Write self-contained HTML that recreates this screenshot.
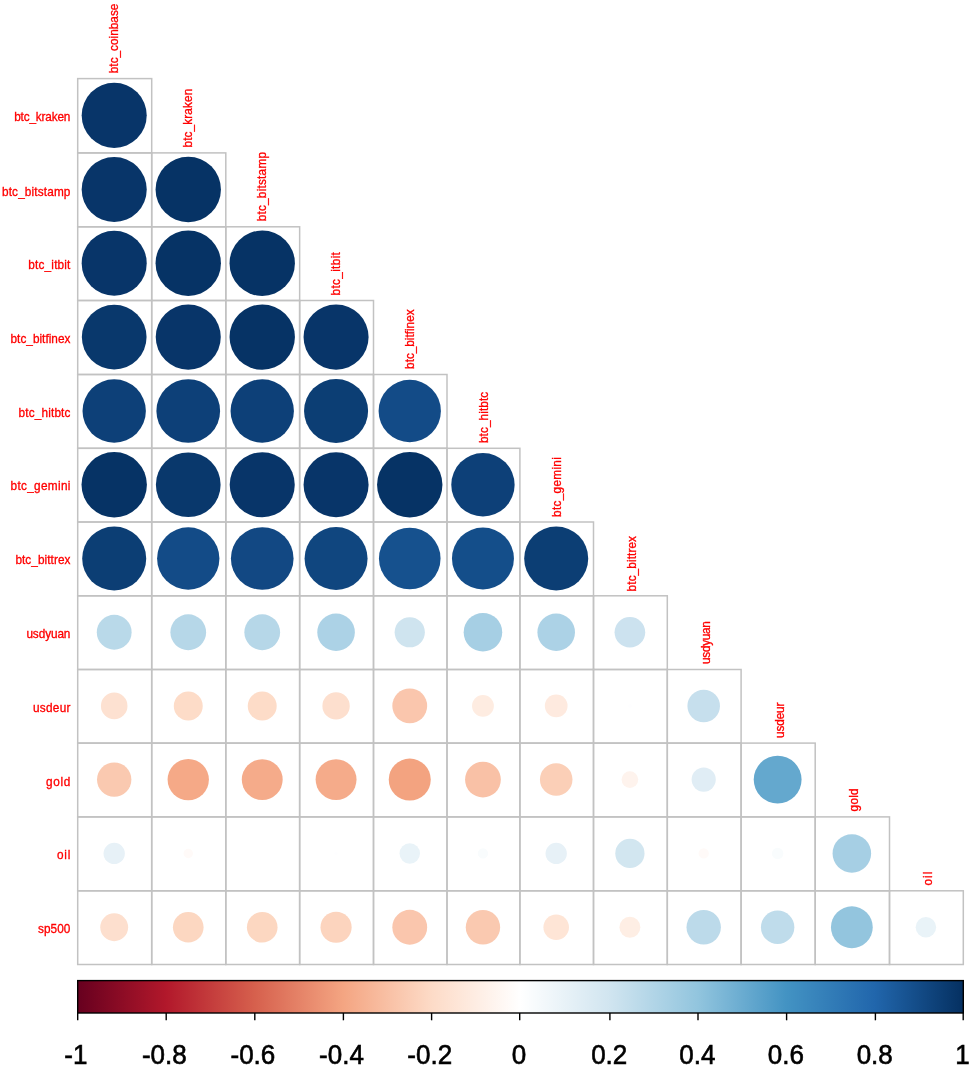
<!DOCTYPE html>
<html><head><meta charset="utf-8"><title>corrplot</title>
<style>html,body{margin:0;padding:0;background:#fff}svg{display:block;filter:blur(0.45px)}</style></head>
<body>
<svg width="969" height="1066" viewBox="0 0 969 1066" font-family="&quot;Liberation Sans&quot;, sans-serif">
<rect width="969" height="1066" fill="#fff"/>
<g fill="none" stroke="#C2C2C2" stroke-width="1.5"><rect x="77.70" y="78.60" width="74.00" height="74.30"/><rect x="77.70" y="152.90" width="74.00" height="73.90"/><rect x="151.70" y="152.90" width="74.10" height="73.90"/><rect x="77.70" y="226.80" width="74.00" height="73.70"/><rect x="151.70" y="226.80" width="74.10" height="73.70"/><rect x="225.80" y="226.80" width="73.85" height="73.70"/><rect x="77.70" y="300.50" width="74.00" height="74.00"/><rect x="151.70" y="300.50" width="74.10" height="74.00"/><rect x="225.80" y="300.50" width="73.85" height="74.00"/><rect x="299.65" y="300.50" width="73.85" height="74.00"/><rect x="77.70" y="374.50" width="74.00" height="73.80"/><rect x="151.70" y="374.50" width="74.10" height="73.80"/><rect x="225.80" y="374.50" width="73.85" height="73.80"/><rect x="299.65" y="374.50" width="73.85" height="73.80"/><rect x="373.50" y="374.50" width="73.50" height="73.80"/><rect x="77.70" y="448.30" width="74.00" height="73.70"/><rect x="151.70" y="448.30" width="74.10" height="73.70"/><rect x="225.80" y="448.30" width="73.85" height="73.70"/><rect x="299.65" y="448.30" width="73.85" height="73.70"/><rect x="373.50" y="448.30" width="73.50" height="73.70"/><rect x="447.00" y="448.30" width="72.90" height="73.70"/><rect x="77.70" y="522.00" width="74.00" height="73.80"/><rect x="151.70" y="522.00" width="74.10" height="73.80"/><rect x="225.80" y="522.00" width="73.85" height="73.80"/><rect x="299.65" y="522.00" width="73.85" height="73.80"/><rect x="373.50" y="522.00" width="73.50" height="73.80"/><rect x="447.00" y="522.00" width="72.90" height="73.80"/><rect x="519.90" y="522.00" width="73.60" height="73.80"/><rect x="77.70" y="595.80" width="74.00" height="73.70"/><rect x="151.70" y="595.80" width="74.10" height="73.70"/><rect x="225.80" y="595.80" width="73.85" height="73.70"/><rect x="299.65" y="595.80" width="73.85" height="73.70"/><rect x="373.50" y="595.80" width="73.50" height="73.70"/><rect x="447.00" y="595.80" width="72.90" height="73.70"/><rect x="519.90" y="595.80" width="73.60" height="73.70"/><rect x="593.50" y="595.80" width="73.80" height="73.70"/><rect x="77.70" y="669.50" width="74.00" height="73.60"/><rect x="151.70" y="669.50" width="74.10" height="73.60"/><rect x="225.80" y="669.50" width="73.85" height="73.60"/><rect x="299.65" y="669.50" width="73.85" height="73.60"/><rect x="373.50" y="669.50" width="73.50" height="73.60"/><rect x="447.00" y="669.50" width="72.90" height="73.60"/><rect x="519.90" y="669.50" width="73.60" height="73.60"/><rect x="593.50" y="669.50" width="73.80" height="73.60"/><rect x="667.30" y="669.50" width="73.80" height="73.60"/><rect x="77.70" y="743.10" width="74.00" height="73.80"/><rect x="151.70" y="743.10" width="74.10" height="73.80"/><rect x="225.80" y="743.10" width="73.85" height="73.80"/><rect x="299.65" y="743.10" width="73.85" height="73.80"/><rect x="373.50" y="743.10" width="73.50" height="73.80"/><rect x="447.00" y="743.10" width="72.90" height="73.80"/><rect x="519.90" y="743.10" width="73.60" height="73.80"/><rect x="593.50" y="743.10" width="73.80" height="73.80"/><rect x="667.30" y="743.10" width="73.80" height="73.80"/><rect x="741.10" y="743.10" width="74.10" height="73.80"/><rect x="77.70" y="816.90" width="74.00" height="73.90"/><rect x="151.70" y="816.90" width="74.10" height="73.90"/><rect x="225.80" y="816.90" width="73.85" height="73.90"/><rect x="299.65" y="816.90" width="73.85" height="73.90"/><rect x="373.50" y="816.90" width="73.50" height="73.90"/><rect x="447.00" y="816.90" width="72.90" height="73.90"/><rect x="519.90" y="816.90" width="73.60" height="73.90"/><rect x="593.50" y="816.90" width="73.80" height="73.90"/><rect x="667.30" y="816.90" width="73.80" height="73.90"/><rect x="741.10" y="816.90" width="74.10" height="73.90"/><rect x="815.20" y="816.90" width="74.30" height="73.90"/><rect x="77.70" y="890.80" width="74.00" height="73.70"/><rect x="151.70" y="890.80" width="74.10" height="73.70"/><rect x="225.80" y="890.80" width="73.85" height="73.70"/><rect x="299.65" y="890.80" width="73.85" height="73.70"/><rect x="373.50" y="890.80" width="73.50" height="73.70"/><rect x="447.00" y="890.80" width="72.90" height="73.70"/><rect x="519.90" y="890.80" width="73.60" height="73.70"/><rect x="593.50" y="890.80" width="73.80" height="73.70"/><rect x="667.30" y="890.80" width="73.80" height="73.70"/><rect x="741.10" y="890.80" width="74.10" height="73.70"/><rect x="815.20" y="890.80" width="74.30" height="73.70"/><rect x="889.50" y="890.80" width="73.80" height="73.70"/></g>
<circle cx="114.20" cy="115.35" r="32.53" fill="#083569"/>
<circle cx="114.20" cy="189.45" r="32.53" fill="#083569"/>
<circle cx="188.25" cy="189.45" r="32.69" fill="#063365"/>
<circle cx="114.20" cy="263.25" r="32.53" fill="#083569"/>
<circle cx="188.25" cy="263.25" r="32.69" fill="#063365"/>
<circle cx="262.23" cy="263.25" r="32.69" fill="#063365"/>
<circle cx="114.20" cy="337.10" r="32.36" fill="#09386C"/>
<circle cx="188.25" cy="337.10" r="32.53" fill="#083569"/>
<circle cx="262.23" cy="337.10" r="32.69" fill="#063365"/>
<circle cx="336.07" cy="337.10" r="32.53" fill="#083569"/>
<circle cx="114.20" cy="411.00" r="31.68" fill="#0D4078"/>
<circle cx="188.25" cy="411.00" r="31.85" fill="#0D4078"/>
<circle cx="262.23" cy="411.00" r="31.68" fill="#0D4078"/>
<circle cx="336.07" cy="411.00" r="32.02" fill="#0C3E74"/>
<circle cx="409.75" cy="411.00" r="31.16" fill="#134B87"/>
<circle cx="114.20" cy="484.75" r="32.69" fill="#063365"/>
<circle cx="188.25" cy="484.75" r="32.36" fill="#09386C"/>
<circle cx="262.23" cy="484.75" r="32.53" fill="#083569"/>
<circle cx="336.07" cy="484.75" r="32.53" fill="#083569"/>
<circle cx="409.75" cy="484.75" r="32.69" fill="#063365"/>
<circle cx="482.95" cy="484.75" r="31.68" fill="#0D4078"/>
<circle cx="114.20" cy="558.50" r="32.02" fill="#0C3E74"/>
<circle cx="188.25" cy="558.50" r="31.16" fill="#134B87"/>
<circle cx="262.23" cy="558.50" r="31.33" fill="#124883"/>
<circle cx="336.07" cy="558.50" r="31.50" fill="#10467F"/>
<circle cx="409.75" cy="558.50" r="30.80" fill="#16518E"/>
<circle cx="482.95" cy="558.50" r="30.98" fill="#144E8A"/>
<circle cx="556.20" cy="558.50" r="32.02" fill="#0C3E74"/>
<circle cx="114.20" cy="632.25" r="17.42" fill="#B9D9E9"/>
<circle cx="188.25" cy="632.25" r="17.88" fill="#B6D7E8"/>
<circle cx="262.23" cy="632.25" r="17.88" fill="#B6D7E8"/>
<circle cx="336.07" cy="632.25" r="18.79" fill="#ACD2E6"/>
<circle cx="409.75" cy="632.25" r="15.11" fill="#CFE4EF"/>
<circle cx="482.95" cy="632.25" r="19.28" fill="#A6CFE4"/>
<circle cx="556.20" cy="632.25" r="18.79" fill="#ACD2E6"/>
<circle cx="629.90" cy="632.25" r="15.33" fill="#CCE2EF"/>
<circle cx="114.20" cy="705.90" r="13.28" fill="#FDE1D1"/>
<circle cx="188.25" cy="705.90" r="14.48" fill="#FDDCC8"/>
<circle cx="262.23" cy="705.90" r="14.48" fill="#FDDCC8"/>
<circle cx="336.07" cy="705.90" r="13.69" fill="#FDDFCE"/>
<circle cx="409.75" cy="705.90" r="17.42" fill="#FAC6AD"/>
<circle cx="482.95" cy="705.90" r="10.91" fill="#FEECE1"/>
<circle cx="556.20" cy="705.90" r="11.36" fill="#FEEADF"/>
<circle cx="629.90" cy="705.90" r="1.82" fill="#FEFEFF"/>
<circle cx="703.70" cy="705.90" r="16.27" fill="#C6DFED"/>
<circle cx="114.20" cy="779.60" r="17.19" fill="#FAC9B0"/>
<circle cx="188.25" cy="779.60" r="20.66" fill="#F5A987"/>
<circle cx="262.23" cy="779.60" r="20.45" fill="#F5AB8A"/>
<circle cx="336.07" cy="779.60" r="20.45" fill="#F5AB8A"/>
<circle cx="409.75" cy="779.60" r="21.00" fill="#F3A380"/>
<circle cx="482.95" cy="779.60" r="17.88" fill="#F9C1A6"/>
<circle cx="556.20" cy="779.60" r="16.27" fill="#FBCFB7"/>
<circle cx="629.90" cy="779.60" r="8.34" fill="#FEF3ED"/>
<circle cx="703.70" cy="779.60" r="12.07" fill="#E0EDF5"/>
<circle cx="777.65" cy="779.60" r="23.93" fill="#64A8CE"/>
<circle cx="114.20" cy="853.45" r="10.66" fill="#E7F1F7"/>
<circle cx="188.25" cy="853.45" r="4.70" fill="#FFFAF8"/>
<circle cx="336.07" cy="853.45" r="1.82" fill="#FEFEFF"/>
<circle cx="409.75" cy="853.45" r="10.24" fill="#E9F3F8"/>
<circle cx="482.95" cy="853.45" r="5.14" fill="#F9FCFD"/>
<circle cx="556.20" cy="853.45" r="10.66" fill="#E7F1F7"/>
<circle cx="629.90" cy="853.45" r="14.63" fill="#D2E6F0"/>
<circle cx="703.70" cy="853.45" r="5.14" fill="#FFFAF8"/>
<circle cx="777.65" cy="853.45" r="5.75" fill="#F9FCFD"/>
<circle cx="851.85" cy="853.45" r="19.28" fill="#A6CFE4"/>
<circle cx="114.20" cy="927.25" r="13.93" fill="#FDDFCE"/>
<circle cx="188.25" cy="927.25" r="15.33" fill="#FCD7C1"/>
<circle cx="262.23" cy="927.25" r="15.33" fill="#FCD7C1"/>
<circle cx="336.07" cy="927.25" r="15.58" fill="#FCD4BE"/>
<circle cx="409.75" cy="927.25" r="17.42" fill="#FAC6AD"/>
<circle cx="482.95" cy="927.25" r="17.19" fill="#FAC9B0"/>
<circle cx="556.20" cy="927.25" r="12.78" fill="#FEE5D6"/>
<circle cx="629.90" cy="927.25" r="10.45" fill="#FEEEE4"/>
<circle cx="703.70" cy="927.25" r="17.19" fill="#BCDAEA"/>
<circle cx="777.65" cy="927.25" r="16.70" fill="#BFDCEB"/>
<circle cx="851.85" cy="927.25" r="20.90" fill="#93C5DE"/>
<circle cx="925.90" cy="927.25" r="10.24" fill="#E9F3F8"/>
<g fill="#FF0000" stroke="#FF0000" stroke-width="0.3" font-size="11.8">
<text transform="translate(70.4,121.45) scale(1,1.08)" text-anchor="end" textLength="56.2">btc_kraken</text>
<text transform="translate(70.4,195.65) scale(1,1.08)" text-anchor="end" textLength="68.4">btc_bitstamp</text>
<text transform="translate(70.4,269.35) scale(1,1.08)" text-anchor="end" textLength="42.1">btc_itbit</text>
<text transform="translate(70.4,343.30) scale(1,1.08)" text-anchor="end" textLength="59.9">btc_bitfinex</text>
<text transform="translate(70.4,417.30) scale(1,1.08)" text-anchor="end" textLength="51.8">btc_hitbtc</text>
<text transform="translate(70.4,490.05) scale(1,1.08)" text-anchor="end" textLength="59.9">btc_gemini</text>
<text transform="translate(70.4,564.00) scale(1,1.08)" text-anchor="end" textLength="55.0">btc_bittrex</text>
<text transform="translate(70.4,637.85) scale(1,1.08)" text-anchor="end" textLength="44.0">usdyuan</text>
<text transform="translate(70.4,711.50) scale(1,1.08)" text-anchor="end" textLength="37.4">usdeur</text>
<text transform="translate(70.4,785.70) scale(1,1.08)" text-anchor="end" textLength="24.5">gold</text>
<text transform="translate(70.4,859.45) scale(1,1.08)" text-anchor="end" textLength="13.5">oil</text>
<text transform="translate(70.4,933.35) scale(1,1.08)" text-anchor="end" textLength="32.5">sp500</text>
<text transform="translate(118.30,73.20) rotate(-90) scale(1,1.08)" textLength="69.6">btc_coinbase</text>
<text transform="translate(192.05,147.50) rotate(-90) scale(1,1.08)" textLength="58.8">btc_kraken</text>
<text transform="translate(266.33,221.30) rotate(-90) scale(1,1.08)" textLength="69.3">btc_bitstamp</text>
<text transform="translate(340.18,295.50) rotate(-90) scale(1,1.08)" textLength="43.4">btc_itbit</text>
<text transform="translate(413.95,368.90) rotate(-90) scale(1,1.08)" textLength="59.5">btc_bitfinex</text>
<text transform="translate(487.55,443.10) rotate(-90) scale(1,1.08)" textLength="51.3">btc_hitbtc</text>
<text transform="translate(561.10,516.90) rotate(-90) scale(1,1.08)" textLength="59.7">btc_gemini</text>
<text transform="translate(635.80,591.40) rotate(-90) scale(1,1.08)" textLength="55.4">btc_bittrex</text>
<text transform="translate(710.00,663.90) rotate(-90) scale(1,1.08)" textLength="42.7">usdyuan</text>
<text transform="translate(783.95,737.90) rotate(-90) scale(1,1.08)" textLength="35.3">usdeur</text>
<text transform="translate(858.15,811.40) rotate(-90) scale(1,1.08)" textLength="23.0">gold</text>
<text transform="translate(932.20,885.40) rotate(-90) scale(1,1.08)" textLength="13.7">oil</text>
</g>
<defs><linearGradient id="cb" x1="0" y1="0" x2="1" y2="0"><stop offset="0%" stop-color="#67001F"/><stop offset="10%" stop-color="#B2182B"/><stop offset="20%" stop-color="#D6604D"/><stop offset="30%" stop-color="#F4A582"/><stop offset="40%" stop-color="#FDDBC7"/><stop offset="50%" stop-color="#FFFFFF"/><stop offset="60%" stop-color="#D1E5F0"/><stop offset="70%" stop-color="#92C5DE"/><stop offset="80%" stop-color="#4393C3"/><stop offset="90%" stop-color="#2166AC"/><stop offset="100%" stop-color="#053061"/></linearGradient></defs>
<rect x="77.7" y="980.6" width="885.60" height="32.40" fill="url(#cb)"/>
<rect x="77.7" y="980.6" width="885.60" height="32.40" fill="none" stroke="#000" stroke-width="1.4"/>
<g stroke="#000" stroke-width="1.4">
<line x1="77.70" y1="1013.0" x2="77.70" y2="1020.3"/>
<line x1="166.20" y1="1013.0" x2="166.20" y2="1020.3"/>
<line x1="254.80" y1="1013.0" x2="254.80" y2="1020.3"/>
<line x1="343.40" y1="1013.0" x2="343.40" y2="1020.3"/>
<line x1="431.60" y1="1013.0" x2="431.60" y2="1020.3"/>
<line x1="519.70" y1="1013.0" x2="519.70" y2="1020.3"/>
<line x1="609.90" y1="1013.0" x2="609.90" y2="1020.3"/>
<line x1="698.00" y1="1013.0" x2="698.00" y2="1020.3"/>
<line x1="786.60" y1="1013.0" x2="786.60" y2="1020.3"/>
<line x1="875.40" y1="1013.0" x2="875.40" y2="1020.3"/>
<line x1="963.20" y1="1013.0" x2="963.20" y2="1020.3"/>
</g>
<g fill="#000" stroke="#000" stroke-width="0.6" font-size="26" text-anchor="middle">
<text transform="translate(75.80,1063.8) scale(1,1.07)">-1</text>
<text transform="translate(164.30,1063.8) scale(1,1.07)">-0.8</text>
<text transform="translate(252.90,1063.8) scale(1,1.07)">-0.6</text>
<text transform="translate(341.50,1063.8) scale(1,1.07)">-0.4</text>
<text transform="translate(429.70,1063.8) scale(1,1.07)">-0.2</text>
<text transform="translate(519.00,1063.8) scale(1,1.07)">0</text>
<text transform="translate(609.20,1063.8) scale(1,1.07)">0.2</text>
<text transform="translate(697.30,1063.8) scale(1,1.07)">0.4</text>
<text transform="translate(785.90,1063.8) scale(1,1.07)">0.6</text>
<text transform="translate(874.70,1063.8) scale(1,1.07)">0.8</text>
<text transform="translate(962.50,1063.8) scale(1,1.07)">1</text>
</g>
</svg>
</body></html>
